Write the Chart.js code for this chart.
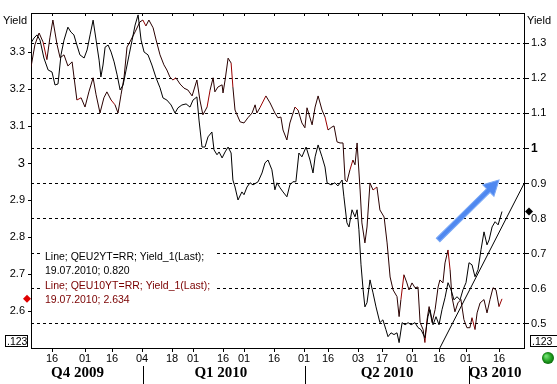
<!DOCTYPE html>
<html><head><meta charset="utf-8">
<script src="https://cdn.jsdelivr.net/npm/chart.js@4.4.1/dist/chart.umd.min.js"></script>
<style>html,body{margin:0;padding:0;background:#fff;}canvas{display:block;}</style>
</head><body>
<canvas id="c" width="557" height="384"></canvas>
<script>
// ---- data (x = trading-day index from start of chart) ----
const dayIdx10 = [0,1.3,2.7,4,5.3,6.3,7.3,8.7,9.7,11,12.3,13.7,15.3,16.7,18,19.3,20.7,21.7,23,24.3,25.3,26.7,28,29,30,31,32,33.3,34.7,36.3,37.3,38.3,39.3,40.7,41.7,43,44.3,45.3,46.3,47.3,48.3,49.7,51,52.3,53.7,55.3,56.3,57.3,58.7,59.7,60.7,61.3,62.3,63.7,64,64.7,65.7,66.7,67.3,68,69.7,71,72.3,73.7,74.7,75.3,76.3,78.3,79.7,81.3,82.3,83.3,84,85.3,86.3,88,89,90.3,91.3,92,93.7,94.7,95.7,97,98,99,100.3,101,102,103,104,104.7,105.3,106.3,107.3,108,108.7,109.7,110.3,111.3,112,113,114,115.3,116.3,117.7,118.7,119.7,120.7,122,122.7,123.3,124.3,125.3,126,127,128,129,129.7,130.7,131.3,132,132.7,133.7,134.7,135.7,136.3,137.3,138,139,139.7,140.3,141.3,142.3,143.3,144.3,145.3,146.3,147,148,148.7,149.7,151,152,153,154,155,156,157];
const yield10 = [3.260,3.320,3.352,3.328,3.280,3.339,3.387,3.320,3.285,3.293,3.263,3.274,3.171,3.177,3.152,3.193,3.231,3.185,3.136,3.177,3.193,3.171,3.158,3.136,3.185,3.231,3.314,3.333,3.355,3.382,3.387,3.371,3.387,3.366,3.333,3.293,3.266,3.252,3.233,3.225,3.231,3.214,3.203,3.198,3.182,3.225,3.171,3.131,3.152,3.198,3.231,3.193,3.206,3.212,3.190,3.225,3.284,3.271,3.206,3.144,3.112,3.109,3.123,3.136,3.158,3.136,3.150,3.182,3.163,3.136,3.123,3.125,3.090,3.063,3.109,3.152,3.144,3.109,3.096,3.150,3.104,3.152,3.182,3.144,3.125,3.090,3.098,3.101,3.058,3.055,3.055,2.955,2.950,2.982,3.009,2.996,3.055,2.928,2.839,2.785,2.828,2.947,2.928,2.936,2.874,2.855,2.785,2.693,2.658,2.640,2.586,2.632,2.699,2.677,2.658,2.677,2.664,2.666,2.570,2.551,2.516,2.577,2.613,2.570,2.605,2.666,2.685,2.677,2.731,2.766,2.712,2.640,2.599,2.623,2.632,2.578,2.556,2.556,2.583,2.551,2.596,2.623,2.632,2.596,2.632,2.664,2.658,2.613,2.634];

const dayIdx2 = [0,1,2,3,4.3,5.7,7,8,9,10,11,12.3,13.3,14.3,15.3,16.3,17.7,18.7,19.7,20.7,21.7,22.7,23.3,24,24.7,25.7,26.7,27.7,28.7,29.7,30.7,31.7,32.7,33.7,34.7,35.7,36.7,37.7,39,40.3,41.7,43,44,45.3,46.7,48,49,50.3,51.7,53,54,55.3,56,57,58,59,60.3,61,62,62.7,63.7,64.7,65.7,66.7,67.3,68,69,70.3,71,72,73,74,75.7,77,78,79,80.3,81.3,82,83,84,85.3,86.3,87.3,88.3,89.3,90.3,91.7,93,94,94.7,95.7,97,98,98.7,100,101.3,102.3,103.7,104.3,105.3,106,107,108,108.7,109.3,110,110.7,111.3,112,113,114,115,116.3,117.3,118.3,119,120,121,122,122.7,123.7,124.7,125.7,126.7,128,129,130,131.3,132.3,133,134,135,136,137,138,139,140,141,142,143,144,145,146,147,148,149,150,151,152,152.7,153.7,154.7,155.7,157];
const yield2 = [1.301,1.315,1.324,1.309,1.258,1.224,1.218,1.181,1.184,1.267,1.309,1.346,1.332,1.324,1.295,1.267,1.258,1.281,1.324,1.366,1.309,1.252,1.204,1.238,1.289,1.295,1.275,1.247,1.210,1.167,1.181,1.224,1.267,1.309,1.352,1.381,1.309,1.275,1.267,1.238,1.201,1.173,1.144,1.138,1.124,1.101,1.116,1.124,1.127,1.118,1.138,1.147,1.081,1.004,1.004,1.033,1.047,0.996,0.982,0.990,0.973,0.990,1.004,0.987,0.910,0.890,0.853,0.876,0.868,0.890,0.902,0.896,0.905,0.930,0.959,0.967,0.939,0.882,0.902,0.888,0.876,0.862,0.896,0.905,0.905,0.987,0.976,1.004,0.967,0.930,0.976,1.010,0.976,0.947,0.902,0.896,0.902,0.893,0.910,0.862,0.788,0.776,0.825,0.805,0.825,0.768,0.668,0.597,0.548,0.560,0.625,0.588,0.548,0.503,0.511,0.483,0.463,0.474,0.469,0.474,0.446,0.503,0.497,0.503,0.497,0.503,0.489,0.483,0.460,0.520,0.540,0.497,0.520,0.497,0.540,0.574,0.617,0.597,0.568,0.577,0.568,0.597,0.617,0.674,0.668,0.634,0.654,0.711,0.762,0.725,0.739,0.776,0.791,0.782,0.820];

const trendIdx = [136.3, 164.3];
const trendVal = [0.431, 0.899];
const arrowIdx = [135.7, 156];
const arrowVal = [0.739, 0.91];

const xTickIdx = [7,18,27,37,47,54,64,71,81,91,99,109,117,127,136,145,156];
const xTickLabels = ['16','01','16','04','18','01','16','01','16','01','16','03','17','01','16','01','16'];
const leftTicks = [2.6,2.7,2.8,2.9,3.0,3.1,3.2,3.3];
const rightTicks = [0.5,0.6,0.7,0.8,0.9,1.0,1.1,1.2,1.3];
const quarterLabels = ['Q4 2009','Q1 2010','Q2 2010','Q3 2010'];
const quarterPos = [15.5, 63.3, 118.7, 154.7];
const quarterSep = [37.3, 91.3, 146];
const legendLines = ['Line; QEU2YT=RR; Yield_1(Last);','19.07.2010; 0.820','Line; QEU10YT=RR; Yield_1(Last);','19.07.2010; 2.634'];
const last2Y = 0.820, last10Y = 2.634;

const FONT = '"Liberation Sans", Arial, sans-serif';
Chart.defaults.font.family = FONT;
Chart.defaults.font.size = 11;
Chart.defaults.color = '#000';

const toPts = (xs, ys) => xs.map((v, i) => ({x: v, y: ys[i]}));

const extras = {
  id: 'extras',
  beforeDatasetsDraw(chart) {
    const {ctx, chartArea: a} = chart;
    ctx.save();
    ctx.font = '10.5px ' + FONT;
    let w = 0; legendLines.forEach(t => w = Math.max(w, ctx.measureText(t).width));
    ctx.fillStyle = '#fff';
    ctx.fillRect(a.left + 12, 249, w + 6, 57);
    ctx.restore();
  },
  afterDraw(chart) {
    const {ctx, chartArea: a, scales} = chart;
    const x = scales.x, yL = scales.yL, yR = scales.yR;
    ctx.save();
    ctx.strokeStyle = '#000'; ctx.lineWidth = 1;
    ctx.beginPath();
    ctx.moveTo(a.left, a.top + 0.5); ctx.lineTo(a.right + 0.5, a.top + 0.5);
    xTickIdx.forEach(v => { const px = Math.round(x.getPixelForValue(v)) + 0.5; ctx.moveTo(px, a.top); ctx.lineTo(px, a.top + 3); });
    ctx.stroke();

    ctx.font = '10.5px ' + FONT;
    ctx.textBaseline = 'alphabetic'; ctx.textAlign = 'left';
    const base = [260, 274, 289, 303];
    legendLines.forEach((t, i) => {
      ctx.fillStyle = i < 2 ? '#000' : '#7a0000';
      ctx.fillText(t, a.left + 14, base[i]);
    });

    const diamond = (cx, cy, r, col) => {
      ctx.fillStyle = col; ctx.beginPath();
      ctx.moveTo(cx, cy - r); ctx.lineTo(cx + r, cy); ctx.lineTo(cx, cy + r); ctx.lineTo(cx - r, cy); ctx.closePath(); ctx.fill();
    };
    diamond(a.left - 4, yL.getPixelForValue(last10Y), 4, '#e00000');
    diamond(a.right + 5, yR.getPixelForValue(last2Y), 4, '#000');

    const x0 = x.getPixelForValue(arrowIdx[0]), y0 = yR.getPixelForValue(arrowVal[0]);
    const x1 = x.getPixelForValue(arrowIdx[1]), y1 = yR.getPixelForValue(arrowVal[1]);
    const ang = Math.atan2(y1 - y0, x1 - x0), len = Math.hypot(x1 - x0, y1 - y0);
    ctx.save();
    ctx.translate(x0, y0); ctx.rotate(ang);
    const hl = 15, hw = 8, sw = 2.5;
    ctx.beginPath();
    ctx.moveTo(0, -sw); ctx.lineTo(len - hl, -sw); ctx.lineTo(len - hl, -hw); ctx.lineTo(len, 0);
    ctx.lineTo(len - hl, hw); ctx.lineTo(len - hl, sw); ctx.lineTo(0, sw); ctx.closePath();
    ctx.fillStyle = '#4f88f0'; ctx.fill();
    ctx.strokeStyle = '#7aa8f5'; ctx.lineWidth = 1; ctx.stroke();
    ctx.restore();

    ctx.fillStyle = '#000'; ctx.font = '11px ' + FONT; ctx.textBaseline = 'alphabetic';
    ctx.textAlign = 'right'; ctx.fillText('Yield', a.left - 4, 24);
    ctx.textAlign = 'left'; ctx.fillText('Yield', a.right + 3, 24);

    ctx.font = 'bold 15px "Liberation Serif", "Times New Roman", serif';
    ctx.textAlign = 'center'; ctx.textBaseline = 'middle';
    quarterLabels.forEach((q, i) => ctx.fillText(q, x.getPixelForValue(quarterPos[i]), 373));
    ctx.strokeStyle = '#000'; ctx.lineWidth = 1; ctx.beginPath();
    quarterSep.forEach(v => { const px = Math.round(x.getPixelForValue(v)) + 0.5; ctx.moveTo(px, 366); ctx.lineTo(px, 386); });
    ctx.stroke();

    ctx.font = '10.5px ' + FONT; ctx.textAlign = 'left'; ctx.textBaseline = 'alphabetic';
    ctx.strokeRect(5.5, 335.5, 22, 11); ctx.fillText('.123', 7, 345);
    ctx.strokeRect(a.right + 6.5, 335.5, 30, 11); ctx.fillText('.123', a.right + 8, 345);

    const g = ctx.createRadialGradient(546, 356, 1, 548, 358, 6);
    g.addColorStop(0, '#6fdc6f'); g.addColorStop(0.6, '#22a022'); g.addColorStop(1, '#0b6a0b');
    ctx.fillStyle = g; ctx.beginPath(); ctx.arc(548, 358, 6, 0, Math.PI * 2); ctx.fill();
    ctx.restore();
  }
};

new Chart(document.getElementById('c'), {
  type: 'line',
  data: {
    datasets: [
      {label: 'QEU2YT=RR', data: toPts(dayIdx2, yield2), yAxisID: 'yR', borderColor: '#000', borderWidth: 1, pointRadius: 0, tension: 0},
      {label: 'QEU10YT=RR', data: toPts(dayIdx10, yield10), yAxisID: 'yL', borderColor: '#2a0000', borderWidth: 1, pointRadius: 0, tension: 0,
        segment: {borderColor: c => (c.p1DataIndex % 9 === 4) ? '#9a0000' : undefined}},
      {label: 'trend', data: toPts(trendIdx, trendVal), yAxisID: 'yR', borderColor: '#000', borderWidth: 1, pointRadius: 0, tension: 0}
    ]
  },
  options: {
    responsive: false, animation: false, devicePixelRatio: 1,
    layout: {padding: {top: 13, left: 0, right: 0, bottom: 0}},
    plugins: {legend: {display: false}, tooltip: {enabled: false}},
    scales: {
      x: {
        type: 'linear', position: 'bottom', min: 0, max: 164.33,
        afterBuildTicks: s => { s.ticks = xTickIdx.map(v => ({value: v})); },
        afterFit: s => { s.height = 36; },
        ticks: {autoSkip: false, maxRotation: 0, padding: 0, callback: (v, i) => xTickLabels[i], font: {size: 11}},
        grid: {display: true, drawOnChartArea: false, drawTicks: true, tickLength: 4, color: '#000'},
        border: {display: true, color: '#000', width: 1}
      },
      yL: {
        type: 'linear', position: 'left', min: 2.5012, max: 3.406,
        afterBuildTicks: s => { s.ticks = leftTicks.map(v => ({value: v})); },
        afterFit: s => { s.width = 31; },
        ticks: {padding: 3, callback: v => String(+v.toFixed(1)),
          font: c => (c.tick && Math.abs(c.tick.value - 3) < 1e-6) ? {size: 13} : {size: 11}},
        grid: {display: true, drawOnChartArea: false, drawTicks: true, tickLength: 3, color: '#000'},
        border: {display: true, color: '#000', width: 1}
      },
      yR: {
        type: 'linear', position: 'right', min: 0.4307, max: 1.3864,
        afterBuildTicks: s => { s.ticks = rightTicks.map(v => ({value: v})); },
        afterFit: s => { s.width = 33; },
        ticks: {padding: 2, callback: v => String(+v.toFixed(1)),
          font: c => (c.tick && Math.abs(c.tick.value - 1) < 1e-6) ? {size: 12, weight: 'bold'} : {size: 11}},
        grid: {display: true, drawOnChartArea: true, drawTicks: true, tickLength: 5, color: '#000', tickBorderDash: [1, 0]},
        border: {display: true, color: '#000', width: 1, dash: [3, 3]}
      }
    }
  },
  plugins: [extras]
});
</script>
</body></html>
